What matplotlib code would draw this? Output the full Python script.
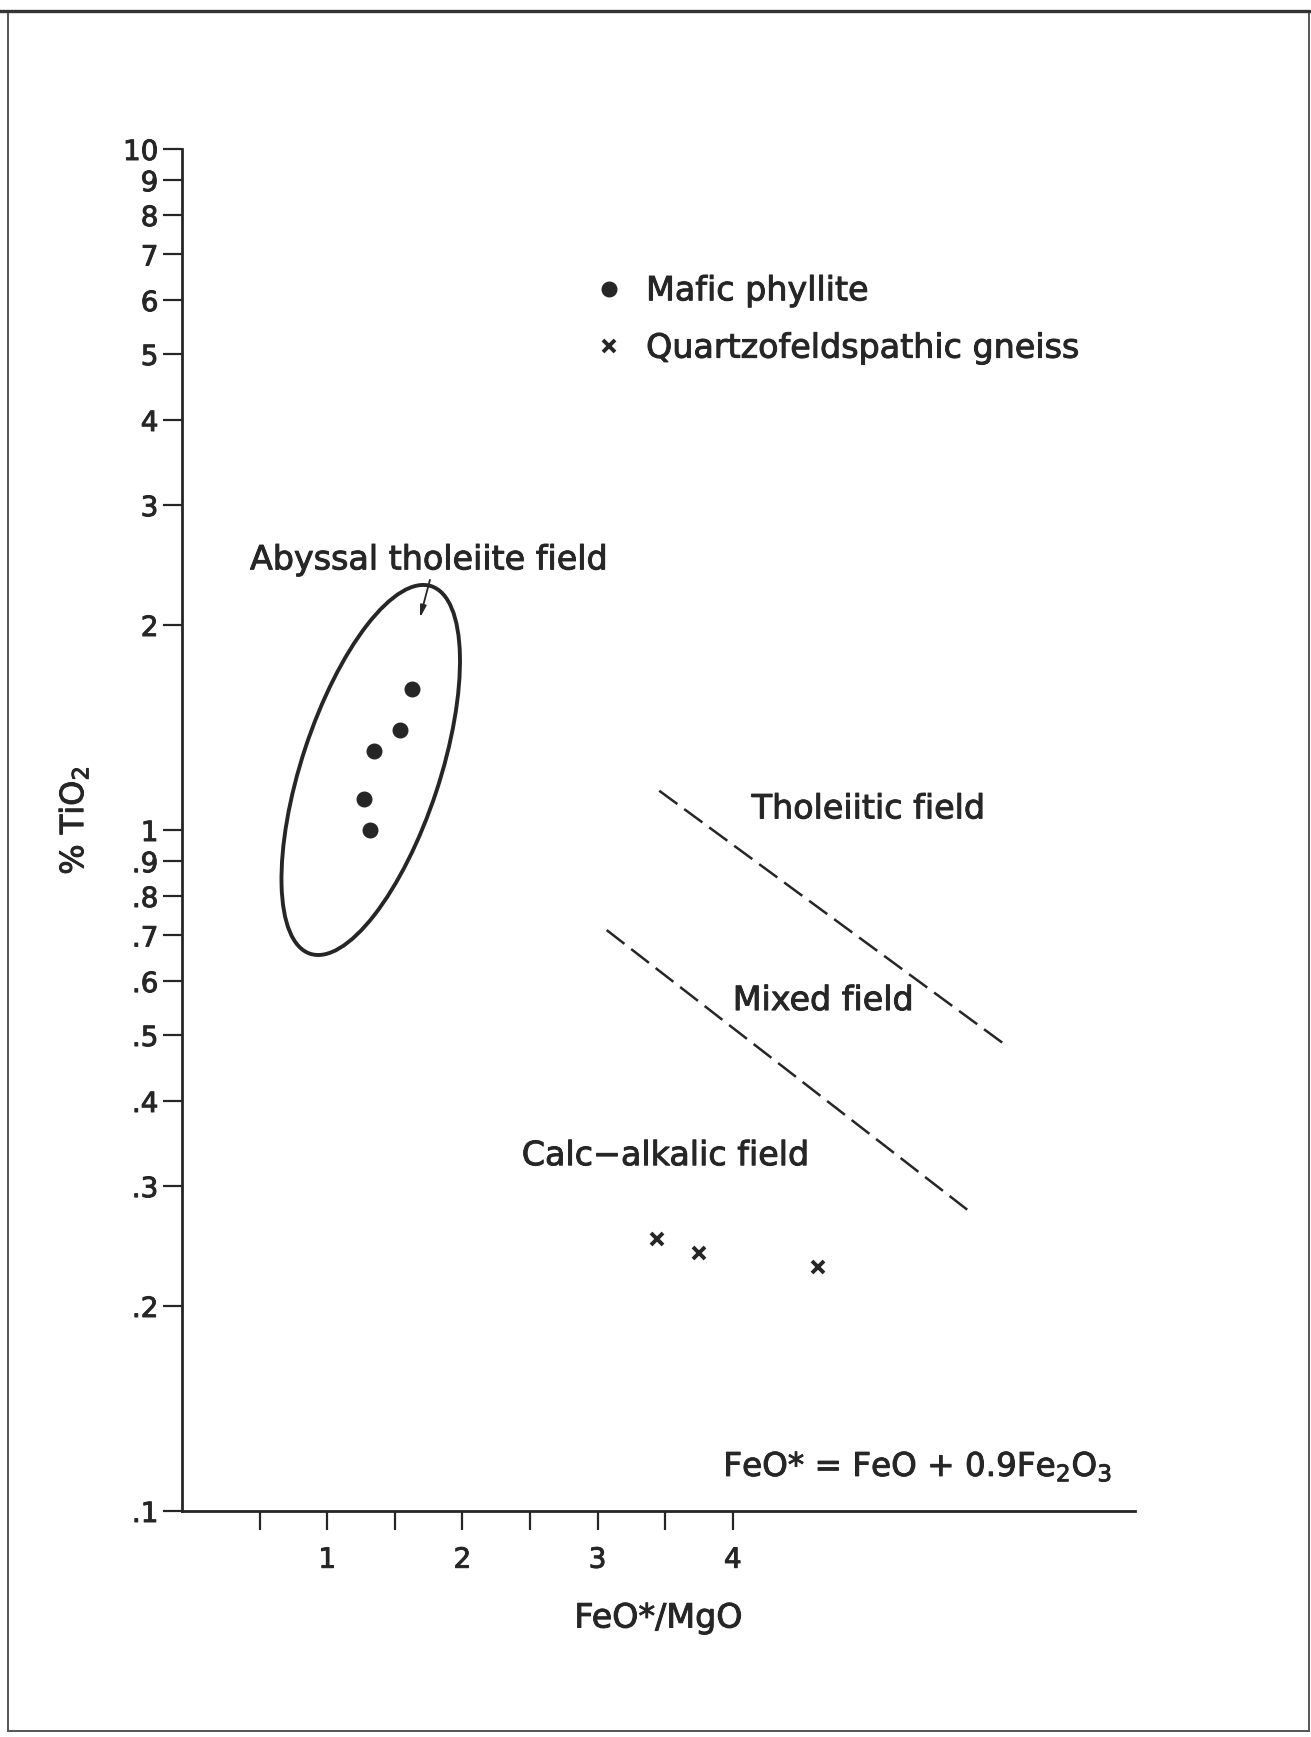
import matplotlib
matplotlib.use("Agg")
import matplotlib.pyplot as plt
import matplotlib.transforms as mtransforms
import matplotlib.patheffects as pe
from matplotlib.patches import Ellipse, Rectangle
from matplotlib.lines import Line2D

# samples
mafic_x = [1.625, 1.536, 1.348, 1.272, 1.319]
mafic_y = [1.61, 1.40, 1.305, 1.11, 1.00]
gneiss_x = [3.437, 3.75, 4.628]
gneiss_y = [0.251, 0.239, 0.228]

# field boundaries (dashed)
thol_x = [3.456, 6.001]
thol_y = [1.142, 0.486]
calc_x = [3.067, 5.734]
calc_y = [0.713, 0.277]

# abyssal tholeiite field: centre in data units, axes in inches, tilt in deg
aby_center = (1.322, 1.225)
aby_size = (3.87, 1.38)
aby_angle = 71.75

y_ticks = [0.1, 0.2, 0.3, 0.4, 0.5, 0.6, 0.7, 0.8, 0.9, 1, 2, 3, 4, 5, 6, 7, 8, 9, 10]
y_labels = ['.1', '.2', '.3', '.4', '.5', '.6', '.7', '.8', '.9',
            '1', '2', '3', '4', '5', '6', '7', '8', '9', '10']
x_ticks = [1, 2, 3, 4]
x_minor = [0.5, 1.5, 2.5, 3.5]

ink = '#262626'
W, H = 1311, 1737

fig = plt.figure(figsize=(W / 100, H / 100), dpi=100)
fig.patch.set_facecolor('white')

# scanned page frame
fig.add_artist(Rectangle((8 / W, 6 / H), 1301 / W, 1720 / H, transform=fig.transFigure,
                         fill=False, lw=1.4, edgecolor='#555555'))
fig.add_artist(Line2D([0, 1], [1 - 11 / H, 1 - 11 / H], transform=fig.transFigure,
                      lw=2.4, color='#333333'))

ax = fig.add_axes([182 / W, (H - 1511) / H, (1135 - 182) / W, (1511 - 149) / H])
ax.set_yscale('log')
ax.set_xlim(-0.074, 6.975)
ax.set_ylim(0.1, 10)

for s in ['top', 'right']:
    ax.spines[s].set_visible(False)
for s in ['left', 'bottom']:
    ax.spines[s].set_linewidth(2.0)
    ax.spines[s].set_color(ink)

ax.set_yticks(y_ticks)
ax.set_yticklabels(y_labels)
ax.yaxis.set_minor_locator(matplotlib.ticker.NullLocator())
ax.set_xticks(x_ticks)
ax.set_xticks(x_minor, minor=True)
ax.tick_params(axis='y', which='major', length=14, width=1.6, color=ink,
               labelsize=20, labelcolor=ink, pad=3)
ax.tick_params(axis='x', which='both', length=14, width=1.6, color=ink,
               labelsize=20, labelcolor=ink, pad=11)

ax.set_xlabel('FeO*/MgO', fontsize=24, color=ink, labelpad=20)
ax.set_ylabel('% TiO$_2$', fontsize=23, color=ink)
ax.yaxis.set_label_coords(-0.096, 0.507)

# data
ax.plot(mafic_x, mafic_y, 'o', ms=10.5, color=ink, label='Mafic phyllite')
ax.plot(gneiss_x, gneiss_y, 'x', ms=9, mew=2.8, color=ink, label='Quartzofeldspathic gneiss')

ax.plot(thol_x, thol_y, color=ink, lw=1.8, dashes=(9.0, 3.4))
ax.plot(calc_x, calc_y, color=ink, lw=1.8, dashes=(9.0, 3.4))

trans = fig.dpi_scale_trans + mtransforms.ScaledTranslation(aby_center[0], aby_center[1], ax.transData)
ax.add_patch(Ellipse((0, 0), aby_size[0], aby_size[1], angle=aby_angle, transform=trans,
                     fill=False, lw=2.8, edgecolor=ink))

ax.annotate('', xy=(1.686, 2.05), xytext=(1.76, 2.33),
            arrowprops=dict(arrowstyle='-|>,head_length=0.7,head_width=0.18',
                            lw=1.3, color=ink, shrinkA=0, shrinkB=0))

ax.text(0.429, 2.414, 'Abyssal tholeiite field', fontsize=24, color=ink, va='baseline')
ax.text(4.14, 1.04, 'Tholeiitic field', fontsize=24, color=ink, va='baseline')
ax.text(4.0, 0.544, 'Mixed field', fontsize=24, color=ink, va='baseline')
ax.text(2.439, 0.322, 'Calc\u2212alkalic field', fontsize=24, color=ink, va='baseline')
ax.text(3.93, 0.1125, 'FeO* = FeO + 0.9Fe$_2$O$_3$', fontsize=23.5, color=ink, va='baseline')

leg = ax.legend(loc='upper left', bbox_to_anchor=(0.431, 0.908), frameon=False,
                fontsize=24, handlelength=1.0, handletextpad=0.6, labelspacing=0.73,
                borderpad=0, borderaxespad=0)
for t in leg.get_texts():
    t.set_color(ink)

# scanned type is a bit heavier than DejaVu regular
for t in fig.findobj(matplotlib.text.Text):
    t.set_path_effects([pe.withStroke(linewidth=0.7, foreground=ink)])

fig.savefig('out.png', dpi=100, facecolor='white')
